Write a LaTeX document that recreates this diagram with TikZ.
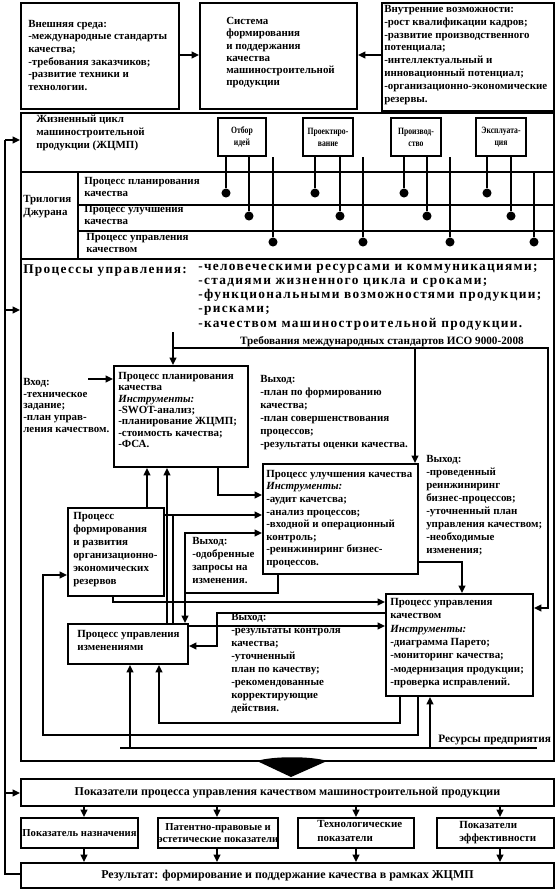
\documentclass[tikz,border=0pt]{standalone}
\usepackage{fontspec}
\setmainfont{Liberation Serif}
\newfontfamily\spaced[LetterSpace=10]{Liberation Serif}
\newfontfamily\narrow[FakeStretch=0.8]{Liberation Serif}
\usetikzlibrary{arrows.meta}
\newcommand\mybox[5]{\node[bx,anchor=north west,minimum width={(#4-#2)*0.75pt},minimum height={(#5-#3)*0.75pt}] (#1) at (#2,#3) {};}
\newcommand\tbox[7]{\node[bx,anchor=north west,minimum width={(#4-#2)*0.75pt},minimum height={(#5-#3)*0.75pt},align=center,font=#6] (#1) at (#2,#3) {#7};}
\begin{document}
\begin{tikzpicture}[x=0.75pt,y=-0.75pt,
  every node/.style={inner sep=0pt},
  ln/.style={line width=1.5pt},
  arr/.style={line width=1.5pt,-{Triangle[length=5.5pt,width=5pt]}},
  bx/.style={draw,line width=1.5pt},
  tx/.style={anchor=north west,align=left,font=\bfseries\fontsize{8.2}{#1}\selectfont},
  tx/.default=9.4,
  dot/.style={circle,fill,minimum size=6.8pt},
]
\useasboundingbox (0,0) rectangle (558,889);

% ---------- top row ----------
\mybox{bA}{20}{2}{178}{108}
\mybox{bB}{199}{2}{356}{108}
\mybox{bC}{381}{2}{553}{110}
\node[tx] (tA) at (28,20) {Внешняя среда:\\-международные стандарты\\качества;\\-требования заказчиков;\\-развитие техники и\\технологии.};
\node[tx=9.2] (tB) at (226,17) {Система\\формирования\\и поддержания\\качества\\машиностроительной\\продукции};
\node[tx=9.6] (tC) at (384,5) {Внутренние возможности:\\-рост квалификации кадров;\\-развитие производственного\\потенциала;\\-интеллектуальный и\\инновационный потенциал;\\-организационно-экономические\\резервы.};
\draw[arr] (bA.east |- 0,55) -- (bB.west |- 0,55);
\draw[arr] (bC.west |- 0,55) -- (bB.east |- 0,55);

% ---------- life cycle ----------
\mybox{jc}{20}{112}{553}{171}
\node[tx=9.7] (tJC) at (36,115) {Жизненный цикл\\машиностроительной\\продукции (ЖЦМП)};
\tbox{s1}{217}{117}{265}{155}{\narrow\bfseries\fontsize{7.2}{9}\selectfont}{Отбор\\идей}
\tbox{s2}{302}{117}{352}{155}{\narrow\bfseries\fontsize{7.2}{9}\selectfont}{Проектиро-\\вание}
\tbox{s3}{390}{117}{440}{155}{\narrow\bfseries\fontsize{7.2}{9}\selectfont}{Производ-\\ство}
\tbox{s4}{475}{117}{525}{155}{\narrow\bfseries\fontsize{7.2}{9}\selectfont}{Эксплуата-\\ция}

% ---------- trilogy ----------
\mybox{trl}{20}{171}{77}{258}
\mybox{r1}{77}{171}{553}{204}
\mybox{r2}{77}{204}{553}{230}
\mybox{r3}{77}{230}{553}{258}
\node[tx=9.6] (tTri) at (23,195) {Трилогия\\Джурана};
\node[tx] (tR1) at (84,177) {Процесс планирования\\качества};
\node[tx] (tR2) at (84,205) {Процесс улучшения\\качества};
\node[tx] (tR3) at (86,233) {Процесс управления\\качеством};

\node[dot] (d11) at (226,193) {};
\node[dot] (d12) at (249,216) {};
\node[dot] (d13) at (273,242) {};
\node[dot] (d21) at (315,193) {};
\node[dot] (d22) at (340,216) {};
\node[dot] (d23) at (363,242) {};
\node[dot] (d31) at (404,193) {};
\node[dot] (d32) at (427,216) {};
\node[dot] (d33) at (450,242) {};
\node[dot] (d41) at (487,193) {};
\node[dot] (d42) at (511,216) {};
\node[dot] (d43) at (534,242) {};
\draw[ln] (d11 |- s1.south) -- (d11);
\draw[ln] (d12 |- s1.south) -- (d12);
\draw[ln] (273,157) -- (d13);
\draw[ln] (d21 |- s2.south) -- (d21);
\draw[ln] (d22 |- s2.south) -- (d22);
\draw[ln] (363,157) -- (d23);
\draw[ln] (d31 |- s3.south) -- (d31);
\draw[ln] (d32 |- s3.south) -- (d32);
\draw[ln] (450,157) -- (d33);
\draw[ln] (d41 |- s4.south) -- (d41);
\draw[ln] (d42 |- s4.south) -- (d42);
\draw[ln] (d43 |- jc.south) -- (d43);

% ---------- main processes ----------
\mybox{mb}{20}{258}{553}{760}
\node[anchor=north west,font=\spaced\bfseries\fontsize{10}{10.6}\selectfont] (tPU) at (23,264) {Процессы управления:};
\node[anchor=north west,align=left,font=\spaced\bfseries\fontsize{10}{10.6}\selectfont] (tPL) at (198,264) {-человеческими ресурсами и коммуникациями;\\-стадиями жизненного цикла и сроками;\\-функциональными возможностями продукции;\\-рисками;\\-качеством машиностроительной продукции.};
\node[anchor=base east,font=\bfseries\fontsize{8.4}{9}\selectfont] (tReq) at (524,344) {Требования международных стандартов ИСО 9000-2008};

\mybox{pb}{113}{365}{247}{466}
\node[tx=8.5] (tPB) at (118,372) {Процесс планирования\\качества\\\textit{Инструменты:}\\-SWOT-анализ;\\-планирование ЖЦМП;\\-стоимость качества;\\-ФСА.};
\node[tx=8.8] (tIn) at (23,378) {Вход:\\-техническое\\задание;\\-план управ-\\ления качеством.};
\node[tx=9.75] (tOut1) at (260,375) {Выход:\\-план по формированию\\качества;\\-план совершенствования\\процессов;\\-результаты оценки качества.};

\mybox{ib}{262}{463}{417}{573}
\node[tx] (tIB) at (266,470) {Процесс улучшения качества\\\textit{Инструменты:}\\-аудит качетсва;\\-анализ процессов;\\-входной и операционный\\контроль;\\-реинжиниринг бизнес-\\процессов.};
\node[tx=9.8] (tOut2) at (426,455) {Выход:\\-проведенный\\реинжиниринг\\бизнес-процессов;\\-уточненный план\\управления качеством;\\-необходимые\\изменения;};

\mybox{fb}{67}{507}{163}{595}
\node[tx=9.75] (tFB) at (73,512) {Процесс\\формирования\\и развития\\организационно-\\экономических\\резервов};
\node[tx=9.75] (tOut3) at (192,537) {Выход:\\-одобренные\\запросы на\\изменения.};

\mybox{cb}{67}{623}{187}{663}
\node[tx=9.75] (tCB) at (77,630) {Процесс управления\\изменениями};

\mybox{qm}{385}{593}{532}{695}
\node[tx=10] (tQM) at (390,598) {Процесс управления\\качеством\\\textit{Инструменты:}\\-диаграмма Парето;\\-мониторинг качества;\\-модернизация продукции;\\-проверка исправлений.};
\node[tx=9.8] (tOut4) at (231,613) {Выход:\\-результаты контроля\\качества;\\-уточненный\\план по качеству;\\-рекомендованные\\корректирующие\\действия.};
\node[anchor=base west,font=\bfseries\fontsize{8.5}{9}\selectfont] (tRes) at (438,742) {Ресурсы предприятия};

% connectors in main block
\coordinate (req) at (173,332);
\draw[arr] (req) -- (req |- pb.north);
\draw[arr] (173,348) -- (548,348) -- (548,608) -- (qm.east |- 0,608);
\draw[arr] (415,348) -- (415,0 |- ib.north);
\coordinate (vin) at (88,379);
\draw[arr] (vin) -- (vin -| pb.west);
\draw[arr] (147,0 |- fb.north) -- (147,0 |- pb.south);
\draw[arr] (167,0 |- cb.north) -- (167,0 |- pb.south);
\draw[ln] (173,0 |- cb.north) -- (173,515);
\draw[arr] (fb.east |- 0,515) -- (ib.west |- 0,515);
\draw[arr] (218,0 |- pb.south) -- (218,495) -- (ib.west |- 0,495);
\draw[arr] (185,593) -- (185,533) -- (ib.west |- 0,533);
\draw[arr] (278,0 |- ib.south) -- (278,593) -- (185,593) -- (185,0 |- cb.north);
\draw[arr] (113,0 |- fb.south) -- (113,602) -- (qm.west |- 0,602);
\draw[arr] (cb.east |- 0,626) -- (qm.west |- 0,626);
\draw[arr] (qm.west |- 0,613) -- (217,613) -- (217,646) -- (cb.east |- 0,646);
\draw[arr] (ib.east |- 0,562) -- (462,562) -- (462,0 |- qm.north);
\draw[arr] (400,0 |- qm.south) -- (400,723) -- (159,723) -- (159,0 |- cb.south);
\draw[arr] (418,0 |- qm.south) -- (418,735) -- (43,735) -- (43,575) -- (fb.west |- 0,575);
\coordinate (resL) at (120,748);
\coordinate (resR) at (537,748);
\draw[ln] (resL) -- (resR);
\draw[arr] (130,748) -- (130,0 |- cb.south);
\draw[arr] (430,748) -- (430,0 |- qm.south);

% ---------- bottom ----------
\fill (257,761) .. controls (272,756) and (312,756) .. (327,761) -- (291,777) -- cycle;
\tbox{pk}{20}{778}{553}{805}{\bfseries\fontsize{9}{10}\selectfont}{Показатели процесса управления качеством машиностроительной продукции}
\tbox{i1}{20}{817}{137}{847}{\bfseries\fontsize{8}{9}\selectfont}{Показатель назначения}
\tbox{i2}{157}{817}{276}{847}{\bfseries\fontsize{8}{9}\selectfont}{Патентно-правовые и\\эстетические показатели}
\mybox{i3}{297}{817}{413}{847}
\mybox{i4}{436}{817}{553}{847}
\node[tx=10.5] (t3) at (317,820) {Технологические\\показатели};
\node[tx=9.75] (t4) at (459,821) {Показатели\\эффективности};
\tbox{res}{20}{862}{553}{887}{\bfseries\fontsize{9}{10}\selectfont}{Результат: формирование и поддержание качества в рамках ЖЦМП}
\foreach \xx/\bb in {84/i1,217/i2,356/i3,500/i4}{
  \draw[arr] (\xx,0 |- pk.south) -- (\xx,0 |- \bb.north);
  \draw[arr] (\xx,0 |- \bb.south) -- (\xx,0 |- res.north);
}

% ---------- feedback line ----------
\draw[ln] (res.west |- 0,874) -- (5,874) -- (5,140);
\draw[arr] (5,140) -- (jc.west |- 0,140);
\draw[arr] (5,310) -- (mb.west |- 0,310);
\draw[arr] (5,793) -- (pk.west |- 0,793);
\end{tikzpicture}
\end{document}
